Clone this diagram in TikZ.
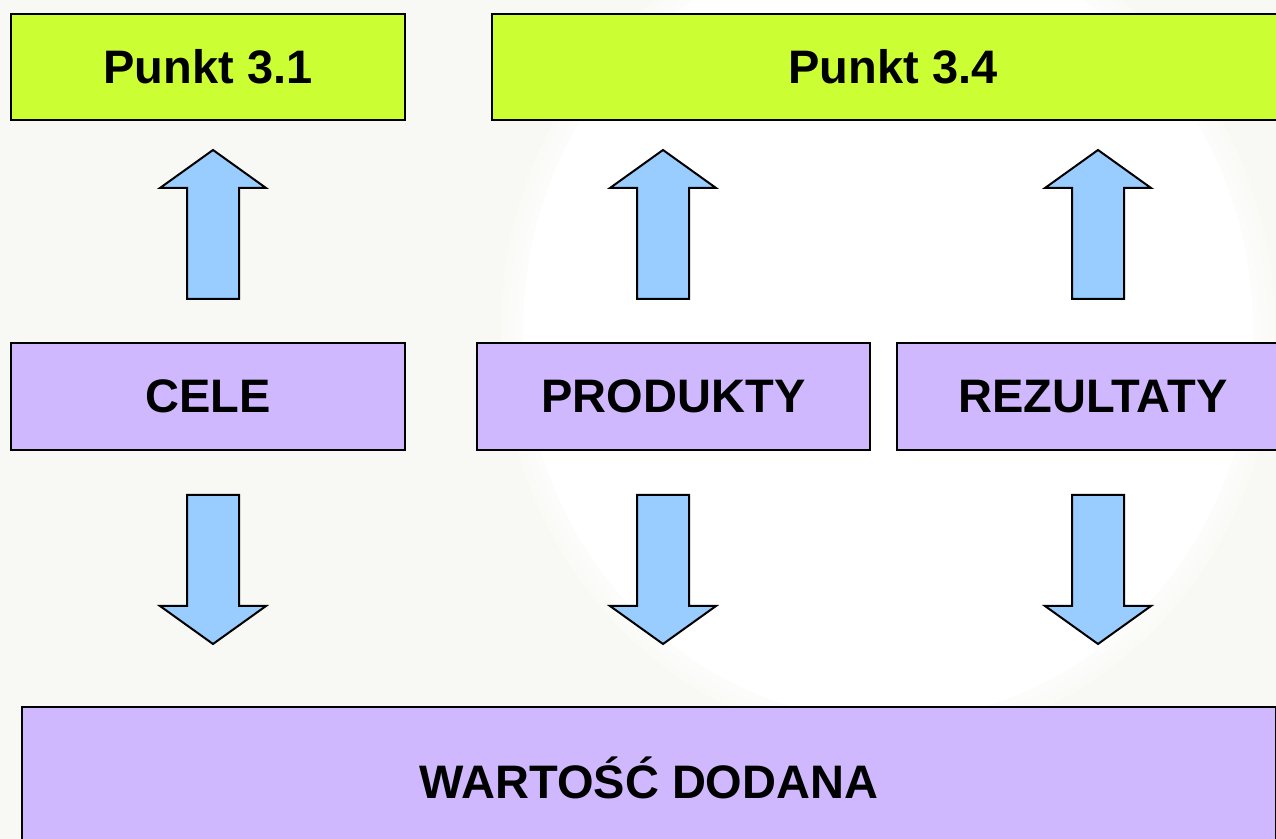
\documentclass[tikz,border=0pt]{standalone}
\usepackage{fontspec}
\setmainfont{Liberation Sans}
\usetikzlibrary{calc}

\definecolor{limegreen}{HTML}{CCFF33}
\definecolor{lilac}{HTML}{D0B8FF}
\definecolor{skyblue}{HTML}{99CCFF}
\definecolor{paper}{HTML}{F8F8F4}

\tikzset{
  box/.style={draw, line width=1pt, inner sep=0pt,
    font=\fontsize{23.5}{28}\selectfont\bfseries},
  punkt/.style={box, fill=limegreen, minimum height=53pt},
  part/.style={box, fill=lilac, minimum height=53.5pt},
  fatup/.style={draw, line width=1pt, fill=skyblue, to path={
    let \p1=(\tikztostart), \p2=(\tikztotarget) in
    (\x1-13pt,\y1) -- (\x1-13pt,\y2-19pt) -- (\x1-26.5pt,\y2-19pt) -- (\x1,\y2)
    -- (\x1+26.5pt,\y2-19pt) -- (\x1+13pt,\y2-19pt) -- (\x1+13pt,\y1) -- cycle}},
  fatdown/.style={draw, line width=1pt, fill=skyblue, to path={
    let \p1=(\tikztostart), \p2=(\tikztotarget) in
    (\x1-13pt,\y1) -- (\x1-13pt,\y2+19pt) -- (\x1-26.5pt,\y2+19pt) -- (\x1,\y2)
    -- (\x1+26.5pt,\y2+19pt) -- (\x1+13pt,\y2+19pt) -- (\x1+13pt,\y1) -- cycle}}
}

\begin{document}
\begin{tikzpicture}[x=0.5pt, y=0.5pt]
    % page and background
    \useasboundingbox (0,0) rectangle (1276,839);
    \clip (0,0) rectangle (1276,839);
    \fill[paper] (0,0) rectangle (1276,839);
    \foreach \s in {1.06,1.04,1.02}
        \fill[white, opacity=0.3] (888,509) ellipse ({\s*182.5pt} and {\s*195pt});
    \fill[white] (888,509) ellipse (182.5pt and 195pt);

    % top row
    \node[punkt, minimum width=197pt] (p31) at (208,772) {Punkt 3.1};
    \node[punkt, minimum width=401pt] (p34) at (893,772) {Punkt 3.4};

    % middle row
    \node[part, minimum width=197pt] (cele) at (208,442.5) {CELE};
    \node[part, minimum width=196.5pt] (prod) at (673.5,442.5) {PRODUKTY};
    \node[part, minimum width=196pt] (rez) at (1093,442.5) {REZULTATY};

    % bottom
    \node[box, fill=lilac, minimum width=627pt, minimum height=71pt] (wart) at (649,61) {WARTOŚĆ DODANA};

    % arrows up
    \draw[fatup] ($(cele.north)+(5,43)$) to ($(p31.south)+(0,-29)$);
    \draw[fatup] ($(prod.north)+(-10.5,43)$) to ($(p34.south)+(0,-29)$);
    \draw[fatup] ($(rez.north)+(5,43)$) to ($(p34.south)+(0,-29)$);

    % arrows down
    \draw[fatdown] ($(cele.south)+(5,-44)$) to ($(wart.north)+(0,62)$);
    \draw[fatdown] ($(prod.south)+(-10.5,-44)$) to ($(wart.north)+(0,62)$);
    \draw[fatdown] ($(rez.south)+(5,-44)$) to ($(wart.north)+(0,62)$);
\end{tikzpicture}
\end{document}
